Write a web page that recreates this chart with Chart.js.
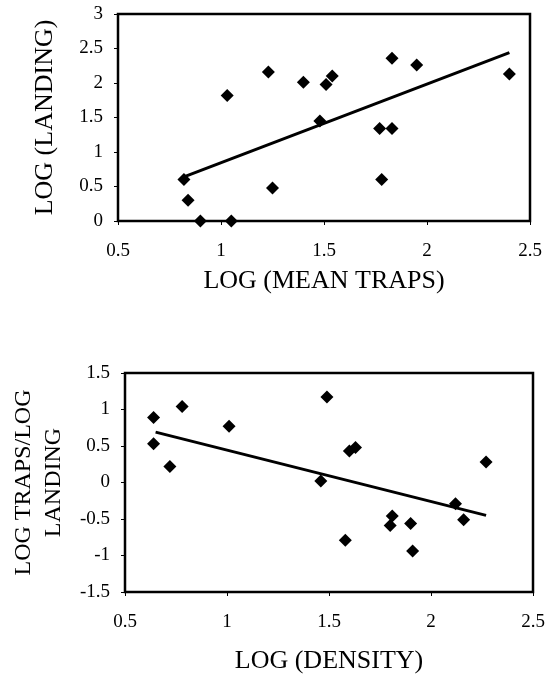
<!DOCTYPE html>
<html>
<head>
<meta charset="utf-8">
<script src="https://cdn.jsdelivr.net/npm/chart.js@4/dist/chart.umd.min.js"></script>
<style>
  html, body { margin: 0; padding: 0; background: #fff; }
  #c1wrap { position: absolute; left: 0; top: 0; width: 547px; height: 330px; }
  #c2wrap { position: absolute; left: 0; top: 330px; width: 547px; height: 344px; }
</style>
</head>
<body>
<div id="c1wrap"><canvas id="c1"></canvas></div>
<div id="c2wrap"><canvas id="c2"></canvas></div>
<script>
// ---- Top chart data: LOG (MEAN TRAPS) vs LOG (LANDING)
const trapsX   = [0.82, 0.84, 0.90, 1.05, 1.03, 1.23, 1.25, 1.40, 1.48, 1.51, 1.54, 1.77, 1.83, 1.78, 1.83, 1.95, 2.40];
const landingY = [0.60, 0.30, 0.00, 0.00, 1.82, 2.16, 0.48, 2.01, 1.45, 1.98, 2.10, 1.34, 1.34, 0.60, 2.36, 2.26, 2.13];
const trend1X  = [0.82, 2.40];
const trend1Y  = [0.64, 2.44];
const top_xTicks = [0.5, 1, 1.5, 2, 2.5];
const top_yTicks = [0, 0.5, 1, 1.5, 2, 2.5, 3];

// ---- Bottom chart data: LOG (DENSITY) vs LOG TRAPS/LOG LANDING
const densityX = [0.64, 0.64, 0.72, 0.78, 1.01, 1.46, 1.49, 1.60, 1.63, 1.58, 1.81, 1.80, 1.90, 1.91, 2.12, 2.16, 2.27];
const ratioY   = [0.89, 0.53, 0.22, 1.04, 0.77, 0.02, 1.17, 0.43, 0.48, -0.79, -0.46, -0.59, -0.56, -0.94, -0.29, -0.51, 0.28];
const trend2X  = [0.65, 2.27];
const trend2Y  = [0.69, -0.45];
const bot_xTicks = [0.5, 1, 1.5, 2, 2.5];
const bot_yTicks = [-1.5, -1, -0.5, 0, 0.5, 1, 1.5];

const FONT = "'Liberation Serif', 'Times New Roman', serif";

const boxPlugin = {
  id: 'box',
  beforeDatasetsDraw(chart) {
    const a = chart.chartArea, ctx = chart.ctx;
    ctx.save();
    ctx.strokeStyle = '#000';
    ctx.lineWidth = 2.5;
    ctx.strokeRect(a.left, a.top, a.right - a.left, a.bottom - a.top);
    ctx.restore();
  }
};

function fmt(v) { return String(v); }

function makeChart(id, xs, ys, tx, ty, xTicks, yTicks, opts) {
  const pts = xs.map((x, i) => ({ x: x, y: ys[i] }));
  const line = tx.map((x, i) => ({ x: x, y: ty[i] }));
  return new Chart(document.getElementById(id), {
    type: 'scatter',
    data: {
      datasets: [
        {
          data: line, showLine: true, borderColor: '#000', borderWidth: 3,
          pointRadius: 0, fill: false, clip: false, order: 2
        },
        {
          data: pts, showLine: false, pointStyle: 'rectRot', pointRadius: 6.5,
          pointHoverRadius: 6.5, backgroundColor: '#000', borderColor: '#000',
          borderWidth: 0, clip: false, order: 1
        }
      ]
    },
    options: {
      responsive: true,
      maintainAspectRatio: false,
      animation: false,
      events: [],
      layout: { padding: opts.padding },
      plugins: { legend: { display: false }, tooltip: { enabled: false } },
      scales: {
        x: {
          type: 'linear', min: xTicks[0], max: xTicks[xTicks.length - 1],
          afterBuildTicks: s => { s.ticks = xTicks.map(v => ({ value: v })); },
          afterFit: s => { s.height = opts.xHeight; s.paddingLeft = 0; s.paddingRight = 0; },
          border: { display: false },
          grid: { display: true, drawOnChartArea: false, drawTicks: true, tickLength: 4, color: '#000', lineWidth: 1 },
          ticks: { color: '#000', font: { family: FONT, size: 19 }, padding: 15, maxRotation: 0, callback: v => fmt(v) },
          title: { display: true, text: opts.xTitle, color: '#000',
                   font: { family: FONT, size: 26, lineHeight: opts.xTitleLH }, padding: { top: 0, bottom: opts.xTitlePad } }
        },
        y: {
          type: 'linear', min: yTicks[0], max: yTicks[yTicks.length - 1],
          afterBuildTicks: s => { s.ticks = yTicks.map(v => ({ value: v })); },
          afterFit: s => { s.width = opts.yWidth; s.paddingTop = 0; s.paddingBottom = 0; },
          border: { display: false },
          grid: { display: true, drawOnChartArea: false, drawTicks: true, tickLength: 4, color: '#000', lineWidth: 1 },
          ticks: { color: '#000', font: { family: FONT, size: 19 }, padding: 11, callback: v => fmt(v) },
          title: { display: true, text: opts.yTitle, color: '#000',
                   font: { family: FONT, size: opts.yTitleSize, lineHeight: opts.yTitleLH }, padding: { top: opts.yTitlePad, bottom: 0 } }
        }
      }
    },
    plugins: [boxPlugin]
  });
}

makeChart('c1', trapsX, landingY, trend1X, trend1Y, top_xTicks, top_yTicks, {
  padding: { top: 14, right: 17, left: 0, bottom: 0 },
  xHeight: 109, yWidth: 118,
  xTitle: 'LOG (MEAN TRAPS)', xTitleLH: 1.2, xTitlePad: 33.4,
  yTitle: 'LOG (LANDING)', yTitleSize: 26, yTitleLH: 1.2, yTitlePad: 29.4
});

makeChart('c2', densityX, ratioY, trend2X, trend2Y, bot_xTicks, bot_yTicks, {
  padding: { top: 43, right: 14, left: 0, bottom: 0 },
  xHeight: 82, yWidth: 125,
  xTitle: 'LOG (DENSITY)', xTitleLH: 1.0, xTitlePad: 0,
  yTitle: ['LOG TRAPS/LOG', 'LANDING'], yTitleSize: 24, yTitleLH: 1.25, yTitlePad: 8.5
});
</script>
</body>
</html>
